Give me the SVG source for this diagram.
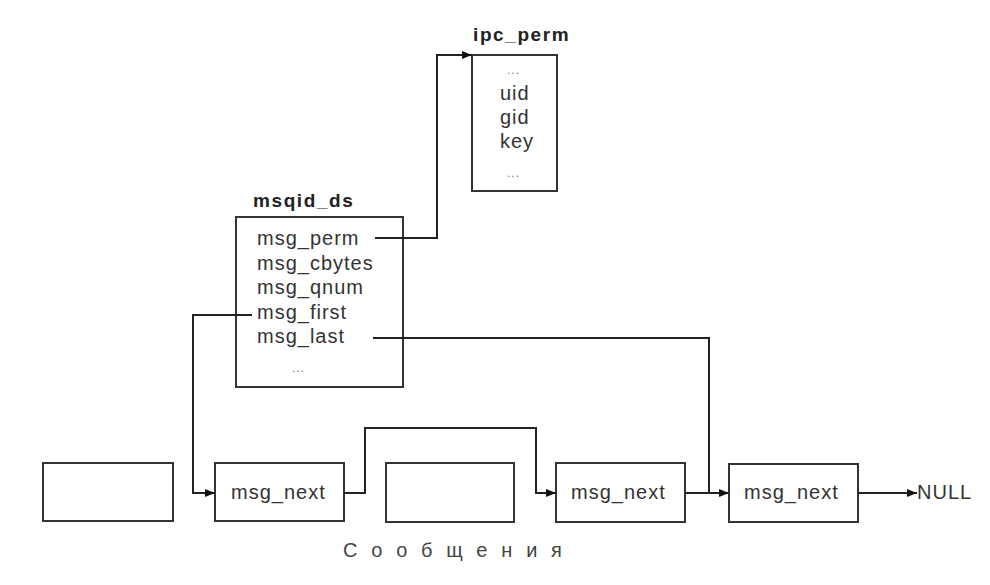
<svg xmlns="http://www.w3.org/2000/svg" width="990" height="585" viewBox="0 0 990 585">
<style>
.box{fill:#fff;stroke:#333;stroke-width:2}
.t{font-family:"Liberation Sans",Arial,sans-serif;font-size:20px;letter-spacing:1px;fill:#333}
.b{font-family:"Liberation Sans",Arial,sans-serif;font-size:19px;font-weight:bold;letter-spacing:1.6px;fill:#222}
.d{font-family:"Liberation Sans",Arial,sans-serif;font-size:12px;fill:#777;letter-spacing:1px}
.c{fill:none;stroke:#222;stroke-width:2}
.cap{font-family:"Liberation Sans",Arial,sans-serif;font-size:20px;letter-spacing:13.8px;fill:#444}
</style>
<defs>
<marker id="ah" viewBox="0 0 10 8" refX="10" refY="4" markerWidth="10" markerHeight="8" markerUnits="userSpaceOnUse" orient="auto">
<path d="M0,0 L10,4 L0,8 Z" fill="#111"/>
</marker>
</defs>
<rect width="990" height="585" fill="#fff"/>
<g id="ipc_perm">
<rect class="box" x="472" y="55" width="85" height="136"/>
<text class="b" x="473" y="41">ipc_perm</text>
<text class="d" x="507" y="74">...</text>
<text class="t" x="500" y="100">uid</text>
<text class="t" x="500" y="124">gid</text>
<text class="t" x="500" y="148">key</text>
<text class="d" x="507" y="177">...</text>
</g>
<g id="msqid_ds">
<rect class="box" x="236" y="217" width="167" height="170"/>
<text class="b" x="253" y="207">msqid_ds</text>
<text class="t" x="257" y="245">msg_perm</text>
<text class="t" x="257" y="270">msg_cbytes</text>
<text class="t" x="257" y="294">msg_qnum</text>
<text class="t" x="257" y="319">msg_first</text>
<text class="t" x="257" y="343">msg_last</text>
<text class="d" x="292" y="372">...</text>
</g>
<g id="msg1">
<rect class="box" x="43" y="463" width="130" height="58"/>
</g>
<g id="msg2">
<rect class="box" x="215" y="463" width="129" height="58"/>
<text class="t" x="231" y="499">msg_next</text>
</g>
<g id="msg3">
<rect class="box" x="386" y="463" width="128" height="59"/>
</g>
<g id="msg4">
<rect class="box" x="556" y="463" width="129" height="59"/>
<text class="t" x="571" y="499">msg_next</text>
</g>
<g id="msg5">
<rect class="box" x="729" y="464" width="129" height="58"/>
<text class="t" x="744" y="499">msg_next</text>
</g>
<g id="null">
<text class="t" x="917" y="499">NULL</text>
</g>
<g id="connectors">
<path class="c" d="M375,238 H437 V55 H472" marker-end="url(#ah)"/>
<path class="c" d="M252,315 H193 V493 H215" marker-end="url(#ah)"/>
<path class="c" d="M373,338 H709 V493"/>
<path class="c" d="M344,493 H365 V428 H536 V493 H556" marker-end="url(#ah)"/>
<path class="c" d="M685,493 H729" marker-end="url(#ah)"/>
<path class="c" d="M858,493 H917" marker-end="url(#ah)"/>
</g>
<text class="cap" x="343" y="557">Сообщения</text>
</svg>
